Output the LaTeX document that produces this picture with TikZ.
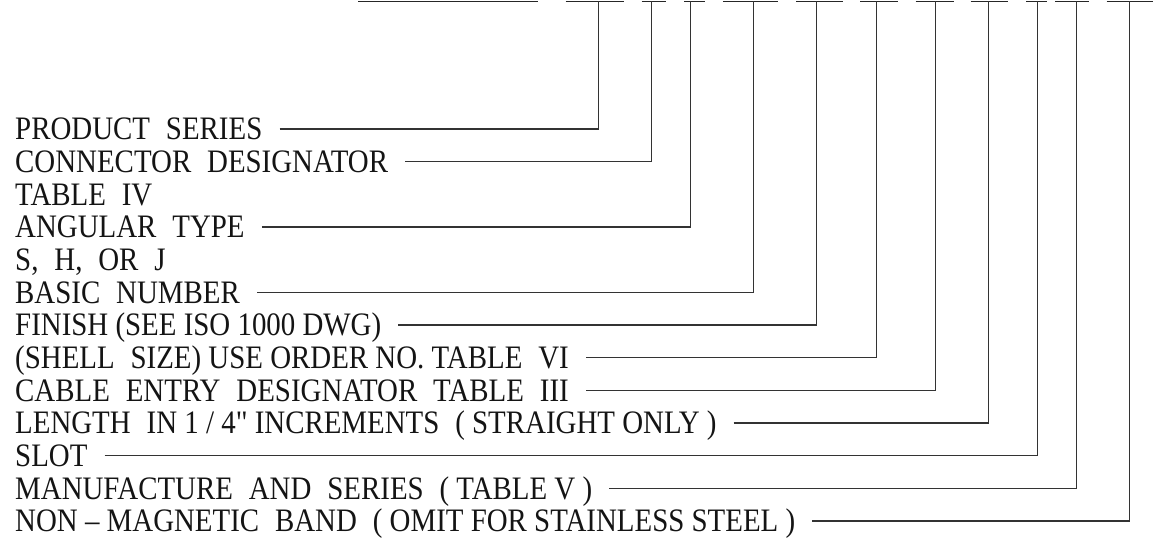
\documentclass[tikz,border=0pt]{standalone}
\usepackage{graphicx}
\usepackage{fontspec}
\setmainfont{Liberation Serif}
\newfontfamily\plainserif{Liberation Serif}
\newcommand{\W}{\hspace{0.55em}}
\newcommand{\tallt}[1]{\scalebox{1}[1.134]{#1}}
\tikzset{
  lbl/.style={anchor=base west, inner sep=0pt, font=\fontsize{28.9}{32}\selectfont, text=black!92},
  conn/.style={draw=black!80, line width=1.25pt},
  bar/.style={draw=black!85, line width=1.4pt}
}
\begin{document}
\begin{tikzpicture}[x=1pt,y=1pt]
\useasboundingbox (0,0) rectangle (1163,540);
% top bar segments
\foreach \a/\b in {358/538, 565.5/624, 641.6/666.2, 684/705, 722.8/778.2, 796/842.5, 860.3/897.5, 915.6/953.7, 970.6/1007.5, 1026/1046.5, 1055/1089.3, 1106.7/1153.3}
  \draw[bar] (\a,538.7) -- (\b,538.7);
% tops of the leaders
\coordinate (p0) at (598.5,538.7);
\coordinate (p1) at (651.5,538.7);
\coordinate (p3) at (690.5,538.7);
\coordinate (p5) at (753.5,538.7);
\coordinate (p6) at (816.3,538.7);
\coordinate (p7) at (876.3,538.7);
\coordinate (p8) at (935.5,538.7);
\coordinate (p9) at (988.4,538.7);
\coordinate (p10) at (1037.8,538.7);
\coordinate (p11) at (1076.5,538.7);
\coordinate (p12) at (1129.3,538.7);
% labels (baseline = row - 10.8)
\node[lbl] (t0)  at (15,400.2) {\tallt{PRODUCT\W SERIES}};
\node[lbl] (t1)  at (15,367.5) {\tallt{CONNECTOR\W DESIGNATOR}};
\node[lbl] (t2)  at (15,334.9) {\tallt{TABLE\W IV}};
\node[lbl] (t3)  at (15,302.2) {\tallt{ANGULAR\W TYPE}};
\node[lbl] (t4)  at (15,269.6) {\tallt{S,\W H,\W OR\W J}};
\node[lbl] (t5)  at (15,236.9) {\tallt{BASIC\W NUMBER}};
\node[lbl] (t6)  at (15,204.2) {\tallt{FINISH (SEE ISO 1000 DWG)}};
\node[lbl] (t7)  at (15,171.6) {\tallt{(SHELL\W SIZE) USE ORDER NO. TABLE\W VI}};
\node[lbl] (t8)  at (15,138.9) {\tallt{CABLE\W ENTRY\W DESIGNATOR\W TABLE\W III}};
\node[lbl] (t9)  at (15,106.3) {\tallt{LENGTH\W IN 1 / 4{\plainserif"} INCREMENTS\W ( STRAIGHT ONLY )}};
\node[lbl] (t10) at (15,73.6)  {\tallt{SLOT}};
\node[lbl] (t11) at (15,40.9)  {\tallt{MANUFACTURE\W AND\W SERIES\W ( TABLE V )}};
\node[lbl] (t12) at (15,8.3)   {\tallt{NON \textendash\ MAGNETIC\W BAND\W ( OMIT FOR STAINLESS STEEL )}};
% leaders
\foreach \i in {0,1,3,5,6,7,8,9,10,11,12}
  \draw[conn] ([xshift=17pt,yshift=10.8pt]t\i.base east) -| (p\i);
\end{tikzpicture}
\end{document}
